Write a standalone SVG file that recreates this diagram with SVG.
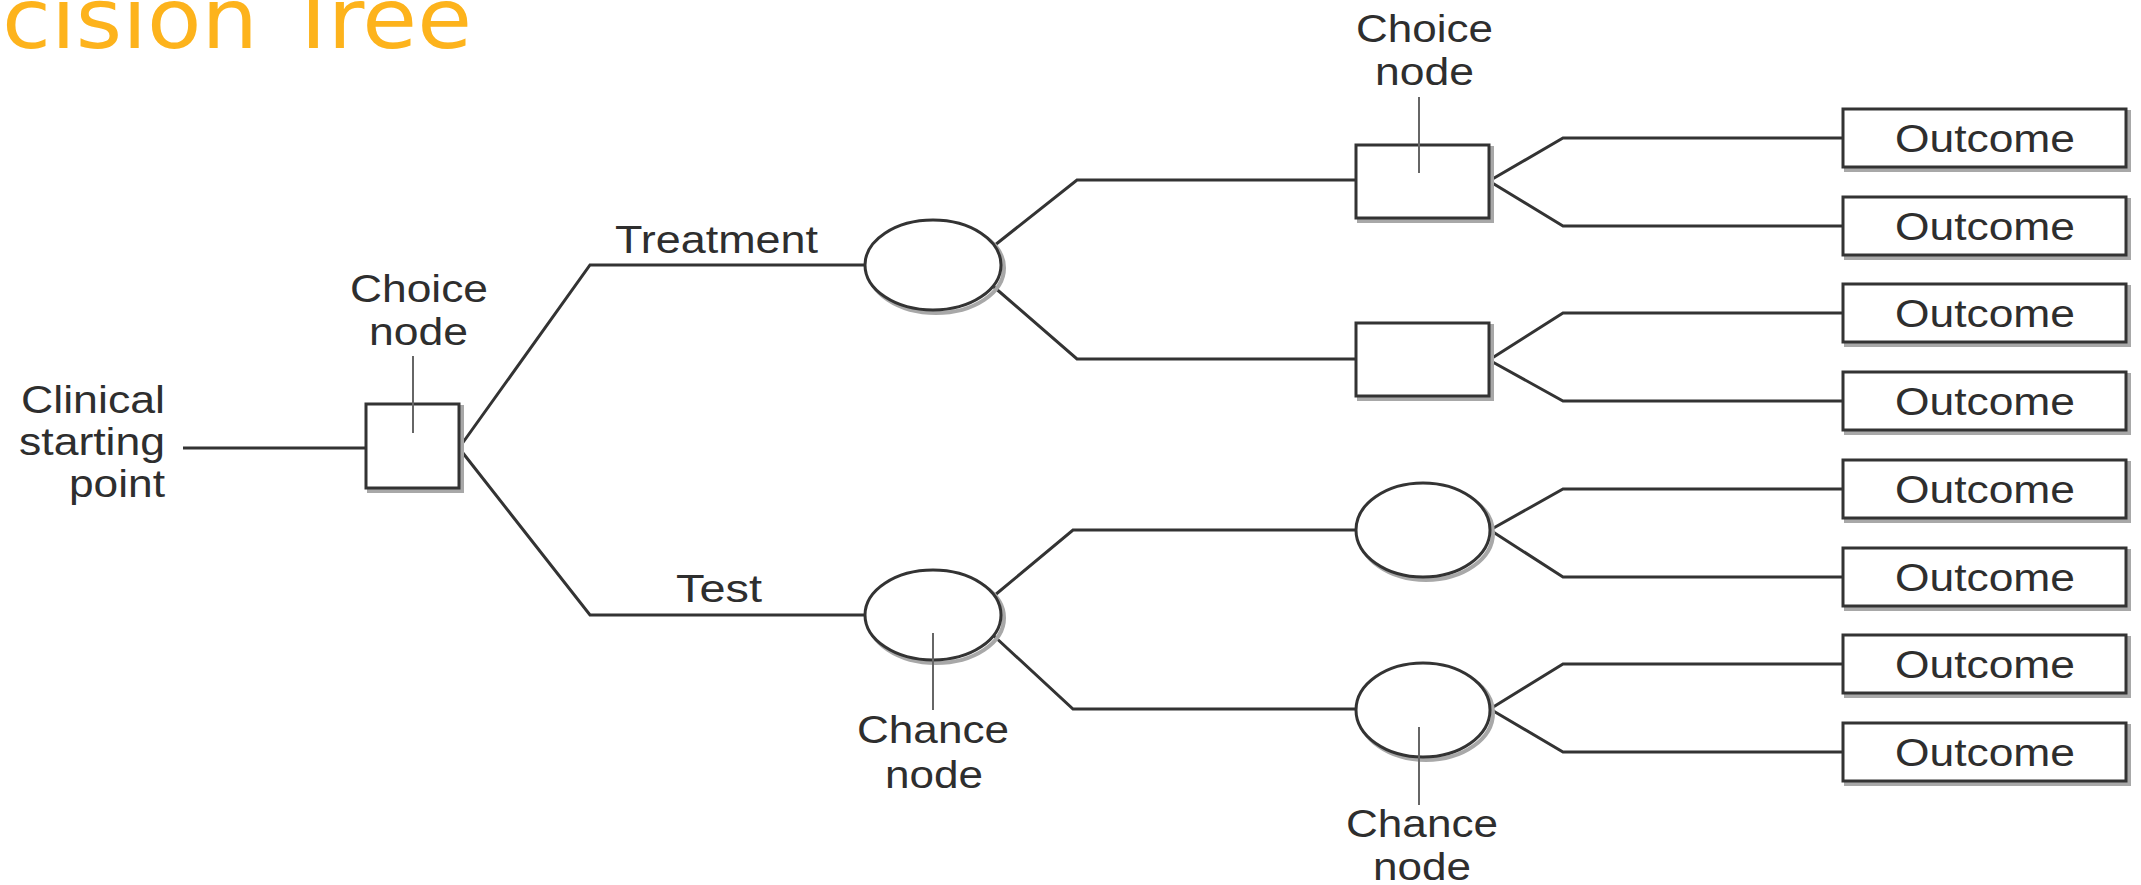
<svg xmlns="http://www.w3.org/2000/svg" width="2141" height="885" viewBox="0 0 2141 885">
<style>
.bg{fill:#fff}
.title{font-family:"DejaVu Sans",sans-serif;font-size:84px;fill:#FDB31C}
.lbl{font-family:"Liberation Sans",Arial,sans-serif;font-size:38px;fill:#2e2e2e}
.shape{fill:#fff;stroke:#333;stroke-width:3}
.shadow{fill:none;stroke:#a8a8a8;stroke-width:4}
.conn{fill:none;stroke:#333;stroke-width:3;stroke-linejoin:miter}
.lead{fill:none;stroke:#666;stroke-width:2}
</style>
<rect class="bg" x="0" y="0" width="2141" height="885"/>
<text class="title" x="2" y="48" textLength="470" lengthAdjust="spacingAndGlyphs">cision Tree</text>

<g id="connectors">
<path class="conn" d="M183 448 H366"/>
<path class="conn" d="M459 448 L590 265 H865"/>
<path class="conn" d="M459 448 L590 615 H865"/>
<path class="conn" d="M995 245 L1077 180 H1356"/>
<path class="conn" d="M994 287 L1077 359 H1356"/>
<path class="conn" d="M995 595 L1073 530 H1356"/>
<path class="conn" d="M994 636 L1073 709 H1356"/>
<path class="conn" d="M1489 181 L1563 138 H1843"/>
<path class="conn" d="M1489 181 L1563 226 H1843"/>
<path class="conn" d="M1489 360 L1563 313 H1843"/>
<path class="conn" d="M1489 360 L1563 401 H1843"/>
<path class="conn" d="M1490 530 L1563 489 H1843"/>
<path class="conn" d="M1490 530 L1563 577 H1843"/>
<path class="conn" d="M1490 709 L1563 664 H1843"/>
<path class="conn" d="M1490 709 L1563 752 H1843"/>
</g>

<g id="start">
<text class="lbl" x="21" y="413" textLength="144" lengthAdjust="spacingAndGlyphs">Clinical</text>
<text class="lbl" x="19" y="455" textLength="146" lengthAdjust="spacingAndGlyphs">starting</text>
<text class="lbl" x="69" y="497" textLength="96" lengthAdjust="spacingAndGlyphs">point</text>
</g>

<g id="root-choice">
<rect class="shadow" x="369" y="407" width="93" height="84"/>
<rect class="shape" x="366" y="404" width="93" height="84"/>
<line class="lead" x1="413" y1="356" x2="413" y2="433"/>
<text class="lbl" x="350" y="302" textLength="138" lengthAdjust="spacingAndGlyphs">Choice</text>
<text class="lbl" x="369" y="345" textLength="99" lengthAdjust="spacingAndGlyphs">node</text>
</g>

<g id="treatment-label">
<text class="lbl" x="615" y="253" textLength="203" lengthAdjust="spacingAndGlyphs">Treatment</text>
</g>
<g id="test-label">
<text class="lbl" x="676" y="602" textLength="86" lengthAdjust="spacingAndGlyphs">Test</text>
</g>

<g id="treatment-chance">
<ellipse class="shadow" cx="936" cy="268" rx="68" ry="45"/>
<ellipse class="shape" cx="933" cy="265" rx="68" ry="45"/>
</g>

<g id="test-chance">
<ellipse class="shadow" cx="936" cy="618" rx="68" ry="45"/>
<ellipse class="shape" cx="933" cy="615" rx="68" ry="45"/>
<line class="lead" x1="933" y1="633" x2="933" y2="710"/>
<text class="lbl" x="857" y="743" textLength="152" lengthAdjust="spacingAndGlyphs">Chance</text>
<text class="lbl" x="885" y="788" textLength="98" lengthAdjust="spacingAndGlyphs">node</text>
</g>

<g id="choice-upper">
<rect class="shadow" x="1359" y="148" width="133" height="73"/>
<rect class="shape" x="1356" y="145" width="133" height="73"/>
<line class="lead" x1="1419" y1="97" x2="1419" y2="173"/>
<text class="lbl" x="1356" y="42" textLength="137" lengthAdjust="spacingAndGlyphs">Choice</text>
<text class="lbl" x="1375" y="85" textLength="99" lengthAdjust="spacingAndGlyphs">node</text>
</g>

<g id="choice-lower">
<rect class="shadow" x="1359" y="326" width="133" height="73"/>
<rect class="shape" x="1356" y="323" width="133" height="73"/>
</g>

<g id="chance-upper">
<ellipse class="shadow" cx="1426" cy="533" rx="67" ry="47"/>
<ellipse class="shape" cx="1423" cy="530" rx="67" ry="47"/>
</g>

<g id="chance-lower">
<ellipse class="shadow" cx="1426" cy="713" rx="67" ry="47"/>
<ellipse class="shape" cx="1423" cy="710" rx="67" ry="47"/>
<line class="lead" x1="1419" y1="727" x2="1419" y2="805"/>
<text class="lbl" x="1346" y="837" textLength="152" lengthAdjust="spacingAndGlyphs">Chance</text>
<text class="lbl" x="1373" y="880" textLength="98" lengthAdjust="spacingAndGlyphs">node</text>
</g>

<g id="outcome-1"><rect class="shadow" x="1846" y="112" width="283" height="58"/><rect class="shape" x="1843" y="109" width="283" height="58"/><text class="lbl" x="1895" y="152" textLength="180" lengthAdjust="spacingAndGlyphs">Outcome</text></g>
<g id="outcome-2"><rect class="shadow" x="1846" y="200" width="283" height="58"/><rect class="shape" x="1843" y="197" width="283" height="58"/><text class="lbl" x="1895" y="240" textLength="180" lengthAdjust="spacingAndGlyphs">Outcome</text></g>
<g id="outcome-3"><rect class="shadow" x="1846" y="287" width="283" height="58"/><rect class="shape" x="1843" y="284" width="283" height="58"/><text class="lbl" x="1895" y="327" textLength="180" lengthAdjust="spacingAndGlyphs">Outcome</text></g>
<g id="outcome-4"><rect class="shadow" x="1846" y="375" width="283" height="58"/><rect class="shape" x="1843" y="372" width="283" height="58"/><text class="lbl" x="1895" y="415" textLength="180" lengthAdjust="spacingAndGlyphs">Outcome</text></g>
<g id="outcome-5"><rect class="shadow" x="1846" y="463" width="283" height="58"/><rect class="shape" x="1843" y="460" width="283" height="58"/><text class="lbl" x="1895" y="503" textLength="180" lengthAdjust="spacingAndGlyphs">Outcome</text></g>
<g id="outcome-6"><rect class="shadow" x="1846" y="551" width="283" height="58"/><rect class="shape" x="1843" y="548" width="283" height="58"/><text class="lbl" x="1895" y="591" textLength="180" lengthAdjust="spacingAndGlyphs">Outcome</text></g>
<g id="outcome-7"><rect class="shadow" x="1846" y="638" width="283" height="58"/><rect class="shape" x="1843" y="635" width="283" height="58"/><text class="lbl" x="1895" y="678" textLength="180" lengthAdjust="spacingAndGlyphs">Outcome</text></g>
<g id="outcome-8"><rect class="shadow" x="1846" y="726" width="283" height="58"/><rect class="shape" x="1843" y="723" width="283" height="58"/><text class="lbl" x="1895" y="766" textLength="180" lengthAdjust="spacingAndGlyphs">Outcome</text></g>
</svg>
